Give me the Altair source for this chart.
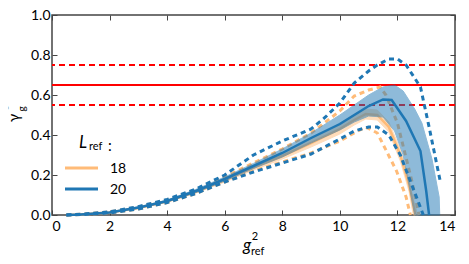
import altair as alt
import pandas as pd

# ---------------- data ----------------
# L_ref = 20 (blue)
b_band_x = [0.5, 1, 2, 3, 4, 5, 6, 7, 8, 9, 10, 10.5, 11, 11.5, 11.9, 12.2, 12.6, 12.85, 13.2, 13.45, 13.47]
b_band_lo = [0, 0.002, 0.010, 0.033, 0.065, 0.112, 0.17, 0.232, 0.29, 0.36, 0.425, 0.465, 0.495, 0.49, 0.42, 0.30, 0.0, 0.0, 0.0, 0.0, 0.0]
b_band_hi = [0, 0.004, 0.015, 0.041, 0.075, 0.128, 0.19, 0.258, 0.33, 0.41, 0.50, 0.55, 0.60, 0.64, 0.65, 0.62, 0.53, 0.46, 0.28, 0.09, 0.0]
b_mid_x = [0.5, 1, 2, 3, 4, 5, 6, 7, 8, 9, 10, 10.5, 11, 11.5, 11.8, 12.3, 12.8, 13.0, 13.1]
b_mid_y = [0, 0.003, 0.013, 0.037, 0.07, 0.12, 0.18, 0.245, 0.31, 0.385, 0.455, 0.50, 0.545, 0.578, 0.575, 0.47, 0.32, 0.12, 0]
b_up_x = [0.5, 1, 2, 3, 4, 5, 6, 7, 8, 9, 9.5, 10, 10.5, 11, 11.3, 11.7, 12, 12.3, 12.8, 13.1, 13.5]
b_up_y = [0, 0.004, 0.016, 0.042, 0.078, 0.13, 0.20, 0.30, 0.37, 0.43, 0.49, 0.56, 0.66, 0.72, 0.75, 0.78, 0.78, 0.75, 0.64, 0.44, 0.16]
b_lo_x = [0.5, 1, 2, 3, 4, 5, 6, 7, 8, 9, 10, 10.5, 11, 11.3, 11.7, 12.1, 12.5, 12.9]
b_lo_y = [0, 0.002, 0.010, 0.030, 0.062, 0.108, 0.165, 0.215, 0.26, 0.305, 0.38, 0.42, 0.44, 0.44, 0.40, 0.30, 0.15, 0]

# L_ref = 18 (orange)
o_band_x = [0.5, 1, 2, 3, 4, 5, 6, 7, 8, 9, 10, 10.5, 10.9, 11.3, 11.7, 12.1, 12.4, 12.55, 12.7]
o_band_lo = [0, 0.002, 0.010, 0.032, 0.064, 0.11, 0.165, 0.225, 0.28, 0.34, 0.405, 0.45, 0.48, 0.475, 0.415, 0.27, 0.12, 0.0, 0.0]
o_band_hi = [0, 0.004, 0.014, 0.039, 0.073, 0.122, 0.185, 0.25, 0.31, 0.38, 0.455, 0.50, 0.53, 0.525, 0.465, 0.33, 0.18, 0.08, 0.0]
o_mid_x = [0.5, 1, 2, 3, 4, 5, 6, 7, 8, 9, 10, 10.5, 10.9, 11.3, 11.7, 12.1, 12.4, 12.62]
o_mid_y = [0, 0.003, 0.012, 0.035, 0.068, 0.116, 0.175, 0.238, 0.295, 0.36, 0.43, 0.475, 0.505, 0.50, 0.44, 0.30, 0.15, 0]
o_up_x = [0.5, 1, 2, 3, 4, 5, 6, 7, 8, 9, 10, 10.5, 11, 11.4, 11.6, 12, 12.5, 12.75]
o_up_y = [0, 0.004, 0.015, 0.040, 0.075, 0.125, 0.19, 0.26, 0.33, 0.41, 0.52, 0.595, 0.625, 0.64, 0.60, 0.46, 0.17, 0]
o_lo_x = [0.5, 1, 2, 3, 4, 5, 6, 7, 8, 9, 10, 10.5, 10.9, 11.3, 11.97, 12.3, 12.45]
o_lo_y = [0, 0.002, 0.010, 0.030, 0.062, 0.108, 0.165, 0.22, 0.265, 0.31, 0.37, 0.41, 0.44, 0.41, 0.22, 0.09, 0]

red_solid = [0.65]
red_dashed = [0.55, 0.75]

x_ticks = [0, 2, 4, 6, 8, 10, 12, 14]
y_ticks = [0.0, 0.2, 0.4, 0.6, 0.8, 1.0]
legend_labels = ["18", "20"]

BLUE = "#1f77b4"
ORANGE = "#ffbb78"
FONT = "Lato"

# ---------------- tables ----------------
def band(xs, lo, hi):
    return pd.DataFrame({"x": xs, "lo": lo, "hi": hi})

def curves(pairs):
    rows = []
    for name, xs, ys in pairs:
        for a, b in zip(xs, ys):
            rows.append({"x": a, "y": b, "c": name})
    return pd.DataFrame(rows)

xs_ = alt.Scale(domain=[0, 14], nice=False)
ys_ = alt.Scale(domain=[0, 1], nice=False)

def X(axis=None):
    return alt.X("x:Q", scale=xs_, axis=axis)

def Y(field="y", axis=None):
    return alt.Y(f"{field}:Q", scale=ys_, axis=axis)

common_axis = dict(domain=False, grid=False, tickSize=5, offset=-5, tickColor="#444",
                   tickWidth=1, title=None)
x_axis = alt.Axis(values=x_ticks, labelFont=FONT, labelFontSize=14, labelColor="black",
                  labelPadding=4, format="d", **common_axis)
y_axis = alt.Axis(values=y_ticks, labelFont=FONT, labelFontSize=14, labelColor="black",
                  labelPadding=2, format=".1f", **common_axis)
x_top = alt.Axis(values=x_ticks, orient="top", labels=False, **common_axis)
y_right = alt.Axis(values=y_ticks, orient="right", labels=False, **common_axis)

# red reference levels
red_s = alt.Chart(pd.DataFrame({"y": red_solid})).mark_rule(color="red", strokeWidth=1.8).encode(y=Y())
red_d = alt.Chart(pd.DataFrame({"y": red_dashed})).mark_rule(
    color="red", strokeWidth=1.8, strokeDash=[6, 4]).encode(y=Y())

# orange
o_band = alt.Chart(band(o_band_x, o_band_lo, o_band_hi)).mark_area(
    color=ORANGE, opacity=0.5, stroke=ORANGE, strokeWidth=1, strokeOpacity=1).encode(
    x=X(x_axis), y=Y("lo", y_axis), y2="hi:Q")
o_mid = alt.Chart(curves([("m", o_mid_x, o_mid_y)])).mark_line(
    color=ORANGE, strokeWidth=2.5).encode(x=X(), y=Y())
o_dash = alt.Chart(curves([("u", o_up_x, o_up_y), ("l", o_lo_x, o_lo_y)])).mark_line(
    color=ORANGE, strokeWidth=3, strokeDash=[5, 4]).encode(x=X(), y=Y(), detail="c:N")

# blue
b_band = alt.Chart(band(b_band_x, b_band_lo, b_band_hi)).mark_area(
    color=BLUE, opacity=0.5, stroke=BLUE, strokeWidth=1, strokeOpacity=1).encode(
    x=X(), y=Y("lo"), y2="hi:Q")
b_mid = alt.Chart(curves([("m", b_mid_x, b_mid_y)])).mark_line(
    color=BLUE, strokeWidth=2.5).encode(x=X(x_top), y=Y(axis=y_right))
b_dash = alt.Chart(curves([("u", b_up_x, b_up_y), ("l", b_lo_x, b_lo_y)])).mark_line(
    color=BLUE, strokeWidth=3, strokeDash=[5, 4]).encode(x=X(), y=Y(), detail="c:N")

# ---------------- texts (titles / legend) ----------------
one = pd.DataFrame({"k": [0]})

def txt(s, px, py, size, angle=0, style="normal", align="center", baseline="middle"):
    kw = dict(font=FONT, fontSize=size, color="black", fontStyle=style,
              align=align, baseline=baseline)
    if angle:
        kw["angle"] = angle
    return alt.Chart(one).mark_text(**kw).encode(
        x=alt.value(px), y=alt.value(py), text=alt.value(s))

texts = [
    # y title  gamma*_g (rotated)
    txt("γ", -38, 103, 15, angle=270),
    txt("g", -30, 94, 10, angle=270),
    txt("*", -41, 93, 11, angle=270),
    # x title  g^2_ref
    txt("g", 195, 231, 17, style="italic"),
    txt("2", 203, 222, 11),
    txt("ref", 199, 237, 11, align="left"),
    # legend
    txt("L", 27, 128, 17, style="italic", align="left"),
    txt("ref", 37, 132, 11, align="left"),
    txt(":", 56, 131, 15, align="left"),
    txt(legend_labels[0], 58, 154, 14, align="left"),
    txt(legend_labels[1], 58, 175, 14, align="left"),
]
leg_lines = [
    alt.Chart(one).mark_rule(color=ORANGE, strokeWidth=3).encode(
        x=alt.value(13), x2=alt.value(46), y=alt.value(153)),
    alt.Chart(one).mark_rule(color=BLUE, strokeWidth=3).encode(
        x=alt.value(13), x2=alt.value(46), y=alt.value(174)),
]

chart = alt.layer(
    red_s, red_d, o_band, o_mid, o_dash, b_band, b_mid, b_dash, *leg_lines, *texts
).resolve_axis(x="independent", y="independent").properties(
    width=403, height=200,
    autosize=alt.AutoSizeParams(type="none"),
    padding={"left": 44, "top": 7, "right": 6, "bottom": 43},
).configure_view(stroke="#444", strokeWidth=1.5)

chart.save("out.html", embed_options={"renderer": "svg", "actions": False})
